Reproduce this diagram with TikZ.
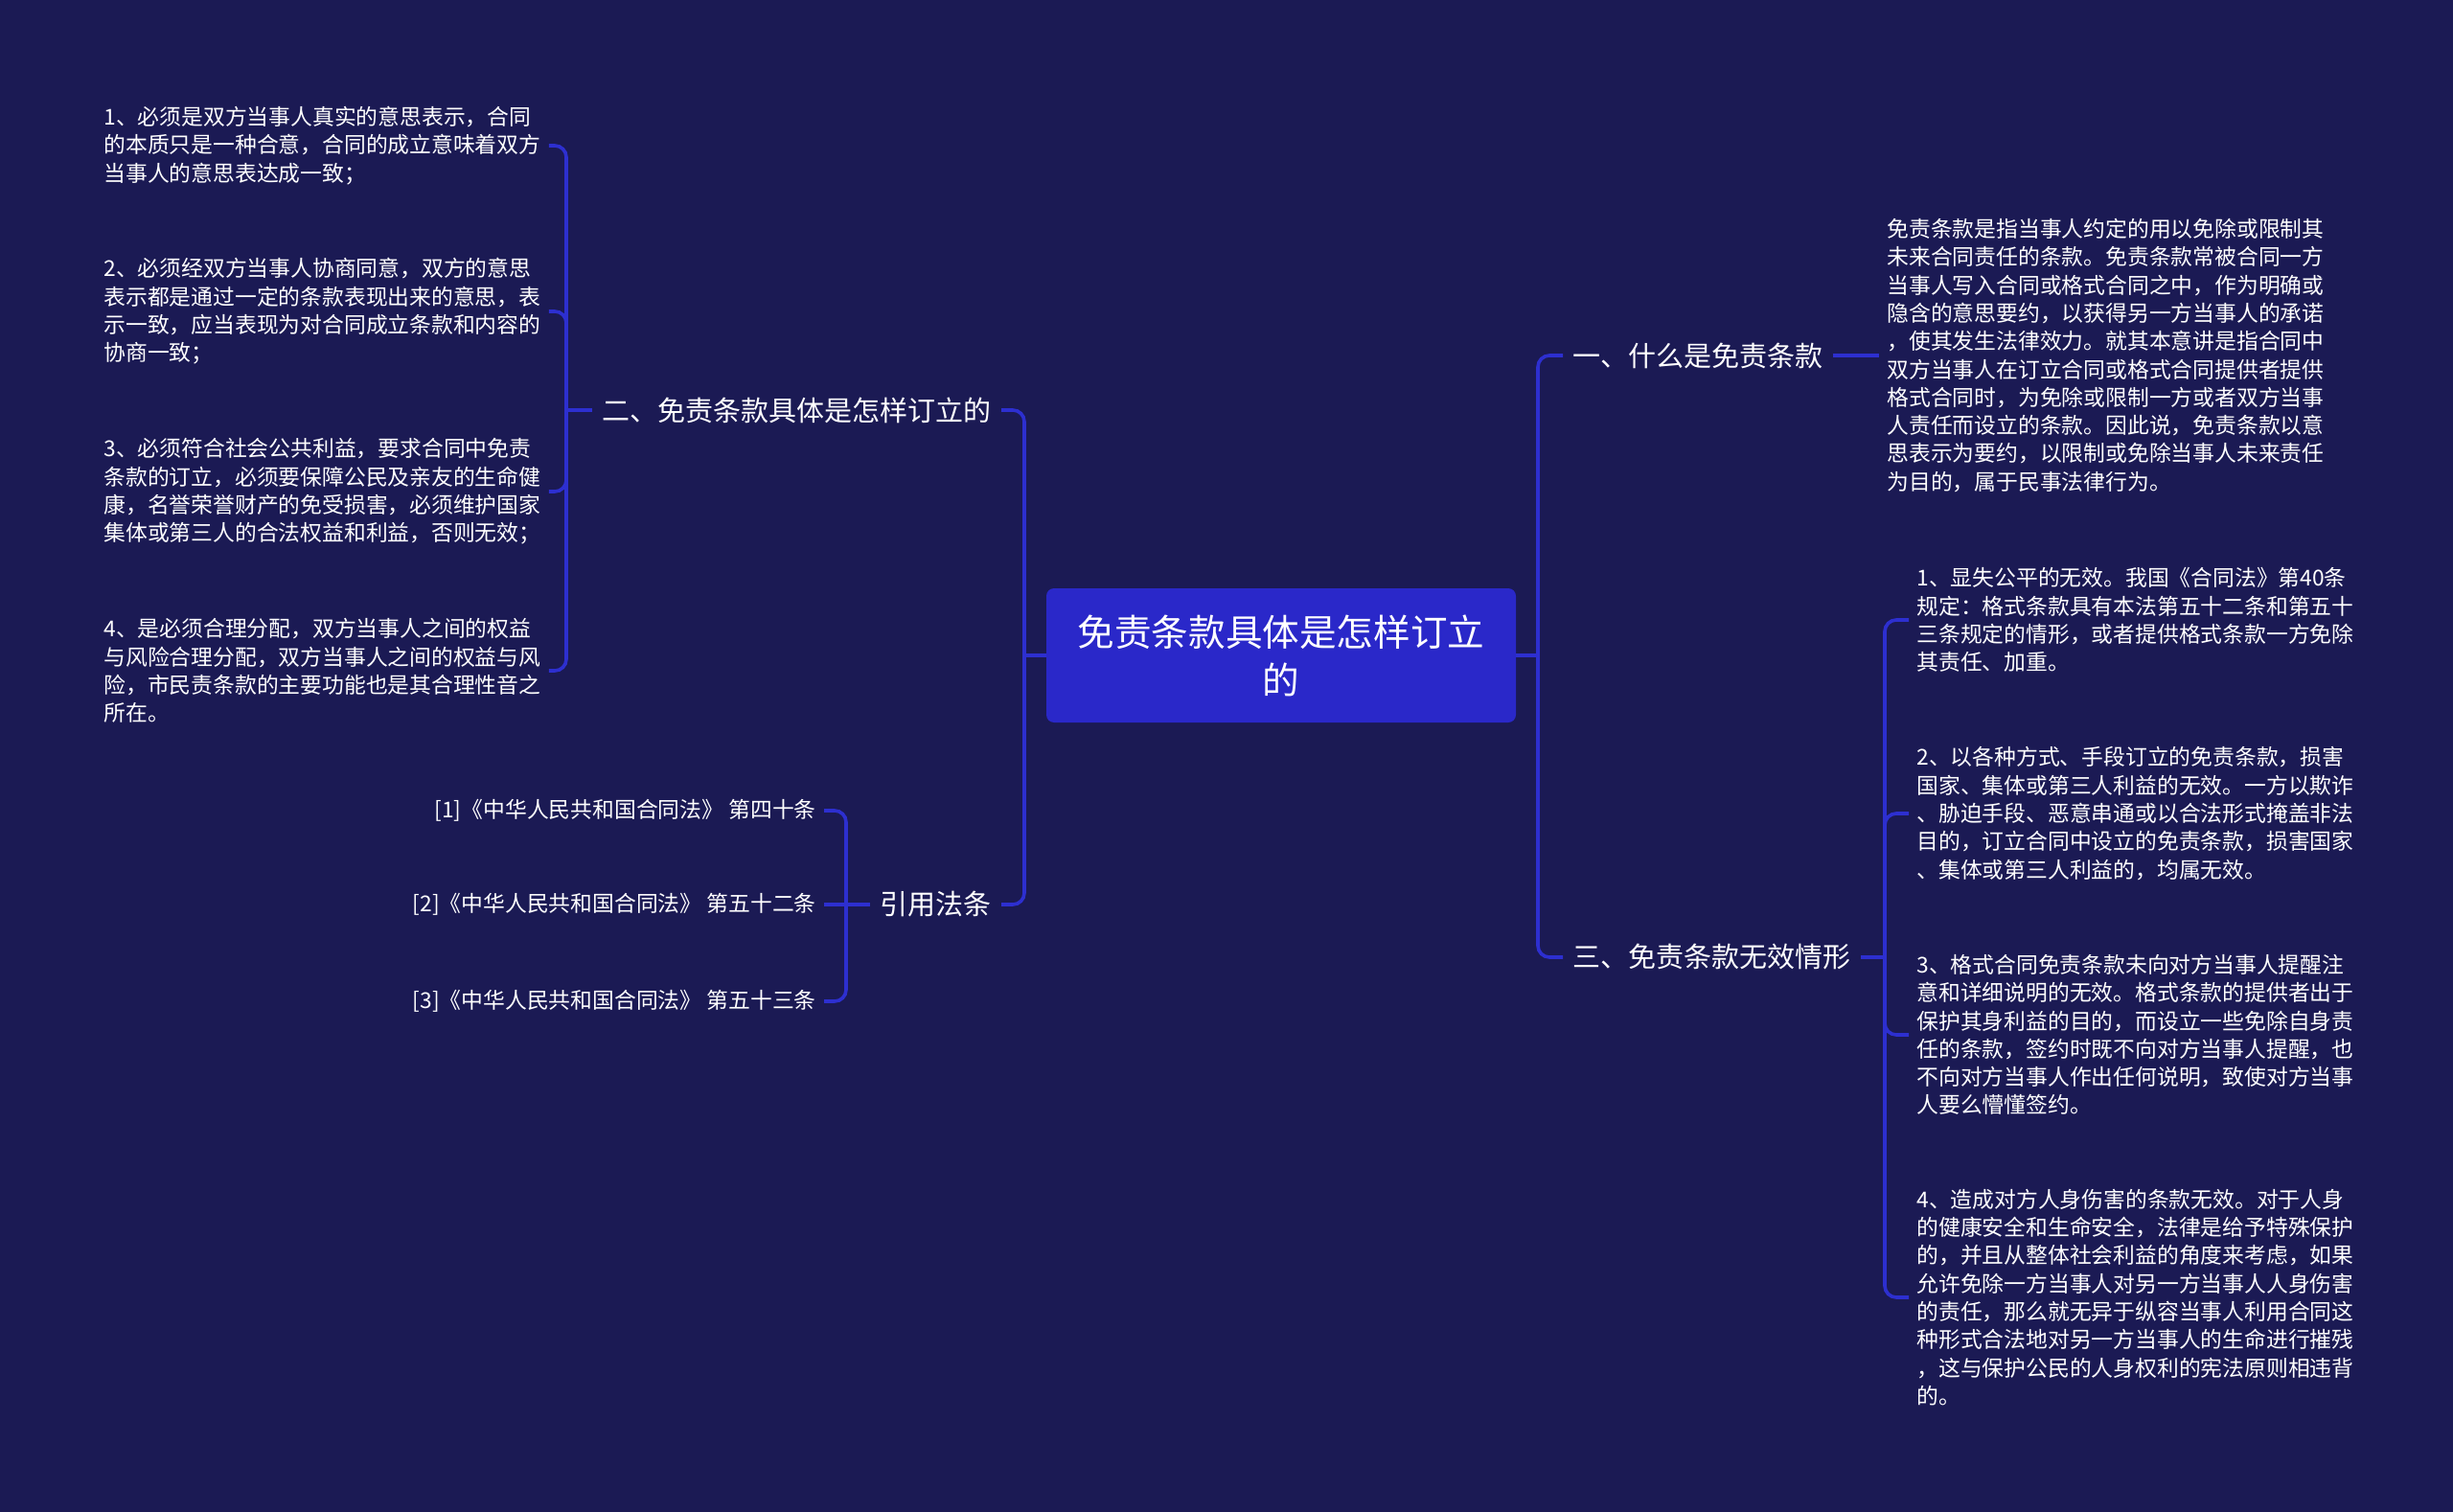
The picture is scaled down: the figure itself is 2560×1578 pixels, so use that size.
\documentclass[tikz,border=0pt]{standalone}
\usepackage{fontspec}
\setmainfont{Noto Sans CJK SC}
\usepackage{tikz}
\usetikzlibrary{positioning}
\definecolor{bgnavy}{HTML}{1B1A54}
\definecolor{rootblue}{HTML}{2A28C9}
\definecolor{linkblue}{HTML}{2D2FD0}
\newcommand{\leaffont}{\fontsize{11.4pt}{14.65pt}\selectfont}
\newcommand{\branchfont}{\fontsize{14.5pt}{18pt}\selectfont}
\newcommand{\rootfont}{\fontsize{19.3pt}{25pt}\selectfont}

\begin{document}
\begin{tikzpicture}[x=0.5pt, y=-0.5pt,
    every node/.style={text=white},
    leaf/.style={font=\leaffont, align=left, inner sep=4pt},
    cite/.style={font=\leaffont, inner sep=4pt, anchor=east},
    branch/.style={font=\branchfont, inner sep=5pt},
    root/.style={fill=rootblue, rounded corners=4pt, font=\rootfont, align=center,
        minimum width=245pt, minimum height=70pt, inner sep=0pt},
    link/.style={draw=linkblue, line width=1.8pt, rounded corners=6pt}]
    \useasboundingbox (0,0) rectangle (2560,1578);
    \fill[bgnavy] (0,0) rectangle (2560,1578);

    \node[root] (root) at (1337,684) {免责条款具体是怎样订立\\的};

    % branches
    \node[branch, anchor=west] (b1) at (1631,371) {一、什么是免责条款};
    \node[branch, anchor=east] (b2) at (1045,428) {二、免责条款具体是怎样订立的};
    \node[branch, anchor=west] (b3) at (1631,999) {三、免责条款无效情形};
    \node[branch, anchor=east] (b4) at (1045,944) {引用法条};

    % leaves of b2
    \node[leaf, anchor=west] (l1) at (100,152) {1、必须是双方当事人真实的意思表示，合同\\%
        的本质只是一种合意，合同的成立意味着双方\\%
        当事人的意思表达成一致；};
    \node[leaf, anchor=west] (l2) at (100,325) {2、必须经双方当事人协商同意，双方的意思\\%
        表示都是通过一定的条款表现出来的意思，表\\%
        示一致，应当表现为对合同成立条款和内容的\\%
        协商一致；};
    \node[leaf, anchor=west] (l3) at (100,513) {3、必须符合社会公共利益，要求合同中免责\\%
        条款的订立，必须要保障公民及亲友的生命健\\%
        康，名誉荣誉财产的免受损害，必须维护国家\\%
        集体或第三人的合法权益和利益，否则无效；};
    \node[leaf, anchor=west] (l4) at (100,700) {4、是必须合理分配，双方当事人之间的权益\\%
        与风险合理分配，双方当事人之间的权益与风\\%
        险，市民责条款的主要功能也是其合理性音之\\%
        所在。};

    % leaves of b4
    \node[cite] (c1) at (860,846) {[1]《中华人民共和国合同法》 第四十条};
    \node[cite] (c2) at (860,944) {[2]《中华人民共和国合同法》 第五十二条};
    \node[cite] (c3) at (860,1045) {[3]《中华人民共和国合同法》 第五十三条};

    % leaf of b1
    \node[leaf, anchor=west] (lf1) at (1961,371) {免责条款是指当事人约定的用以免除或限制其\\%
        未来合同责任的条款。免责条款常被合同一方\\%
        当事人写入合同或格式合同之中，作为明确或\\%
        隐含的意思要约，以获得另一方当事人的承诺\\%
        ，使其发生法律效力。就其本意讲是指合同中\\%
        双方当事人在订立合同或格式合同提供者提供\\%
        格式合同时，为免除或限制一方或者双方当事\\%
        人责任而设立的条款。因此说，免责条款以意\\%
        思表示为要约，以限制或免除当事人未来责任\\%
        为目的，属于民事法律行为。};

    % leaves of b3
    \node[leaf, anchor=west] (r1) at (1992,647) {1、显失公平的无效。我国《合同法》第40条\\%
        规定：格式条款具有本法第五十二条和第五十\\%
        三条规定的情形，或者提供格式条款一方免除\\%
        其责任、加重。};
    \node[leaf, anchor=west] (r2) at (1992,849) {2、以各种方式、手段订立的免责条款，损害\\%
        国家、集体或第三人利益的无效。一方以欺诈\\%
        、胁迫手段、恶意串通或以合法形式掩盖非法\\%
        目的，订立合同中设立的免责条款，损害国家\\%
        、集体或第三人利益的，均属无效。};
    \node[leaf, anchor=west] (r3) at (1992,1080) {3、格式合同免责条款未向对方当事人提醒注\\%
        意和详细说明的无效。格式条款的提供者出于\\%
        保护其身利益的目的，而设立一些免除自身责\\%
        任的条款，签约时既不向对方当事人提醒，也\\%
        不向对方当事人作出任何说明，致使对方当事\\%
        人要么懵懂签约。};
    \node[leaf, anchor=west] (r4) at (1992,1354) {4、造成对方人身伤害的条款无效。对于人身\\%
        的健康安全和生命安全，法律是给予特殊保护\\%
        的，并且从整体社会利益的角度来考虑，如果\\%
        允许免除一方当事人对另一方当事人人身伤害\\%
        的责任，那么就无异于纵容当事人利用合同这\\%
        种形式合法地对另一方当事人的生命进行摧残\\%
        ，这与保护公民的人身权利的宪法原则相违背\\%
        的。};

    \coordinate (trunkL) at (1069,684);
    \coordinate (trunkR) at (1605,684);
    \coordinate (brL) at (591,428);
    \coordinate (brC) at (883,944);
    \coordinate (brR) at (1967,999);

    \draw[link] (root.west) -- (trunkL);
    \draw[link] (root.east) -- (trunkR);
    \draw[link] (b2.east) -| (trunkL) |- (b4.east);
    \draw[link] (b1.west) -| (trunkR) |- (b3.west);

    \draw[link] (l1.east) -| (brL) |- (l4.east);
    \draw[link] (l2.east) -| (brL);
    \draw[link] (l3.east) -| (brL);
    \draw[link] (brL) -- (b2.west);

    \draw[link] (c1.east) -| (brC) |- (c3.east);
    \draw[link] (c2.east) -- (b4.west);

    \draw[link] (b1.east) -- (lf1.west);
    \draw[link] (b3.east) -- (brR);
    \draw[link] (r1.west) -| (brR) |- (r4.west);
    \draw[link] (r2.west) -| (brR);
    \draw[link] (r3.west) -| (brR);
\end{tikzpicture}
\end{document}
